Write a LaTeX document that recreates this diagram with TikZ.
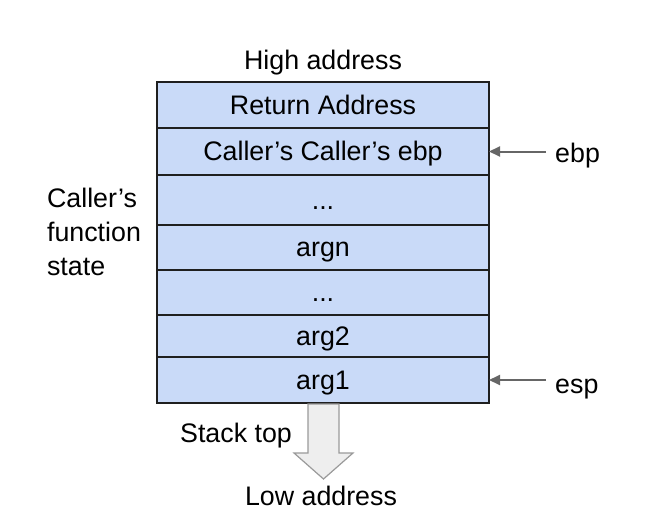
\documentclass[tikz,border=0pt]{standalone}
\usepackage{fontspec}
\setmainfont{Liberation Sans}
\usetikzlibrary{arrows.meta}
\definecolor{cellblue}{HTML}{C9DAF8}
\definecolor{ptrgray}{HTML}{666666}
\definecolor{bigarrowfill}{HTML}{EEEEEE}
\definecolor{bigarrowdraw}{HTML}{9A9A9A}
\newcommand\lblfont{\fontsize{26.8}{34}\selectfont}
\begin{document}
\begin{tikzpicture}[x=1pt,y=-1pt,
  cell/.style={draw=black!88, line width=2pt, fill=cellblue, minimum width=332pt,
    inner sep=0pt, outer sep=0pt, anchor=north west, font=\lblfont,
    text height=19pt, text depth=1pt},
  lbl/.style={inner sep=0pt, font=\lblfont},
  ptr/.style={draw=ptrgray, line width=2pt, -{Triangle[length=11pt,width=10pt]}}]
\useasboundingbox (0,0) rectangle (655,532);
\node[cell, minimum height=46pt] (r1) at (157,82) {Return Address};
\node[cell, minimum height=47pt] (r2) at (157,128) {Caller’s Caller’s ebp};
\node[cell, minimum height=50pt] (r3) at (157,175) {...};
\node[cell, minimum height=45pt] (r4) at (157,225) {argn};
\node[cell, minimum height=45pt] (r5) at (157,270) {...};
\node[cell, minimum height=42pt] (r6) at (157,315) {arg2};
\node[cell, minimum height=46pt] (r7) at (157,357) {arg1};
\node[lbl, anchor=base] (high) at (323,70) {High address};
\node[lbl, align=left] (caller) at (94,231.5) {Caller’s\\function\\state};
\node[lbl, anchor=base west] (ebp) at (555,162) {ebp};
\node[lbl, anchor=base west] (esp) at (555,393) {esp};
\coordinate (ebpstart) at (546,151.5);
\coordinate (espstart) at (546,380);
\draw[ptr] (ebpstart) -- (ebpstart -| r2.east);
\draw[ptr] (espstart) -- (espstart -| r7.east);
\node[lbl, anchor=base] (stacktop) at (236,442) {Stack top};
\node[lbl, anchor=base] (low) at (321,505) {Low address};
\draw[fill=bigarrowfill, draw=bigarrowdraw, line width=1.2pt, line join=miter]
  (308,404) -- (339,404) -- (339,453) -- (353,453) -- (323.5,479) -- (294,453) -- (308,453) -- cycle;
\end{tikzpicture}
\end{document}
